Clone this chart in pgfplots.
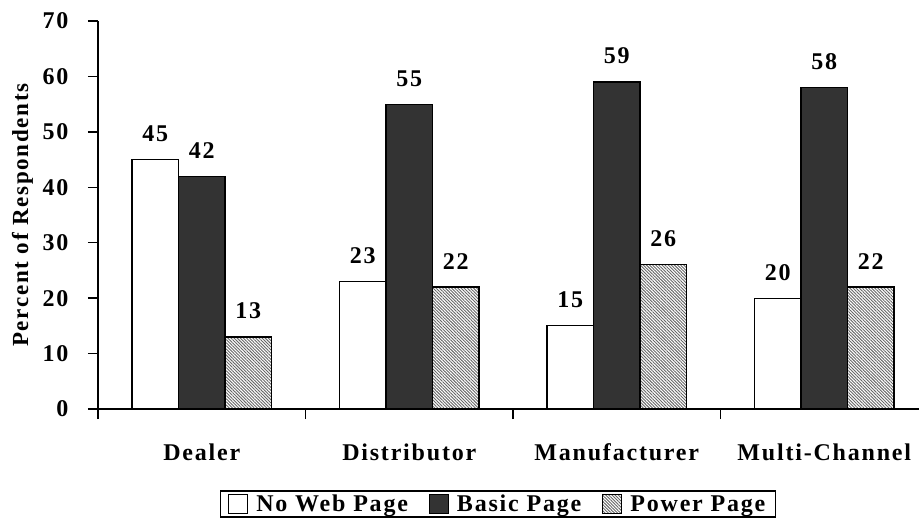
\documentclass[border=0pt]{standalone}
\usepackage{fontspec}
\setmainfont{Liberation Serif}
\newfontfamily\chartfont{Liberation Serif}[LetterSpace=7.5]
\usepackage{pgfplots}
\pgfplotsset{compat=1.18}
\usetikzlibrary{patterns.meta}
\definecolor{darkbar}{HTML}{333333}
\newcommand{\cf}{\chartfont\fontsize{24}{28}\selectfont\bfseries}
\newcommand{\yf}{\chartfont\fontsize{23}{27}\selectfont\bfseries}
\begin{document}
\begin{tikzpicture}[x=1pt,y=1pt]
\begin{axis}[
  at={(98pt,-409pt)}, anchor=south west,
  scale only axis, width=821pt, height=388pt,
  ybar=0pt, bar width=46.5pt,
  xmin=-0.5, xmax=3.4566, ymin=0, ymax=70,
  axis lines*=left,
  axis line style={line width=1.3pt, -},
  ytick={0,10,...,70},
  xtick={0,1,2,3},
  xticklabels={Dealer,Distributor,Manufacturer,Multi-Channel},
  minor xtick={-0.5,0.5,1.5,2.5},
  tick align=outside,
  major tick length=10pt,
  minor tick length=10pt,
  every major x tick/.style={draw=none},
  every tick/.style={line width=1.3pt, black},
  tick label style={font=\cf},
  /pgf/number format/assume math mode=true,
  yticklabel style={xshift=-16pt},
  xticklabel style={anchor=base, yshift=-41pt},
  ylabel={Percent of Respondents},
  ylabel style={font=\yf, at={(axis description cs:-0.092,0.5)}, anchor=center},
  nodes near coords,
  every node near coord/.append style={font=\cf, anchor=base, yshift=18pt, inner sep=0pt},
  legend columns=3,
  legend style={at={(0.487,-0.2448)}, anchor=center, draw=black, line width=1.2pt,
    font=\cf, inner xsep=8pt, inner ysep=2pt,
    /tikz/every odd column/.append style={column sep=6pt},
    /tikz/every even column/.append style={column sep=19pt}},
  legend image code/.code={\draw[#1, line width=1pt] (0pt,-10pt) rectangle (19pt,9pt);},
]
\addplot[fill=white, draw=black, line width=1.2pt] coordinates {(0,45) (1,23) (2,15) (3,20)};
\addplot[fill=darkbar, draw=black, line width=1.2pt] coordinates {(0,42) (1,55) (2,59) (3,58)};
\addplot[pattern={Lines[angle=-45,distance=2.2pt,line width=0.9pt]}, pattern color=black!60, draw=black, line width=1.2pt] coordinates {(0,13) (1,22) (2,26) (3,22)};
\legend{No Web Page, Basic Page, Power Page}
\end{axis}
\pgfresetboundingbox
\useasboundingbox (0,0) rectangle (919,-524);
\end{tikzpicture}
\end{document}
